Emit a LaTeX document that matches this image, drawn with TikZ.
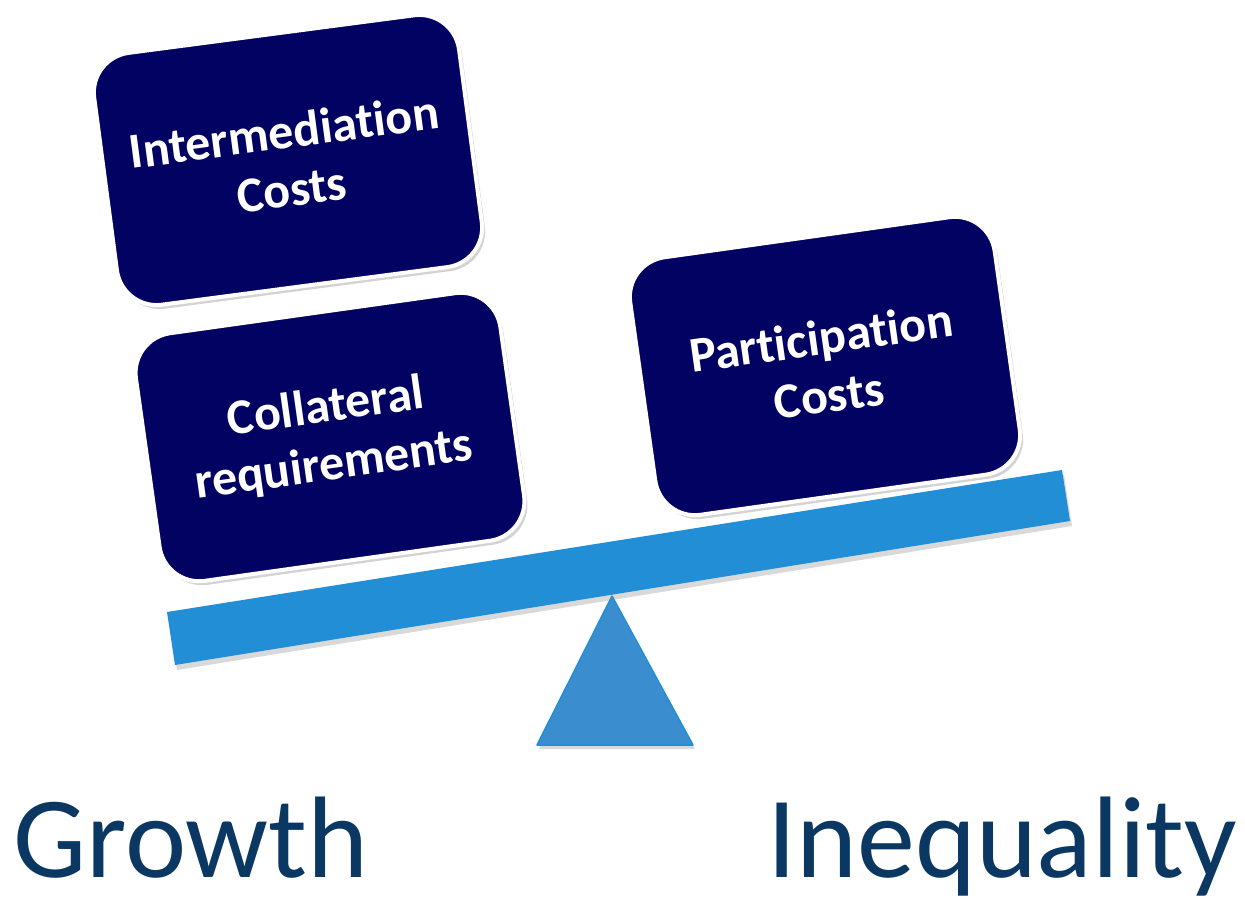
\documentclass[tikz,border=0pt]{standalone}
\usepackage{fontspec}
\setmainfont{Carlito}[Ligatures=NoCommon]
\usetikzlibrary{shadows}
\definecolor{boxnavy}{RGB}{2,2,98}
\definecolor{beamblue}{RGB}{34,142,214}
\definecolor{pivotblue}{RGB}{58,142,208}
\definecolor{labelnavy}{RGB}{11,55,99}

\begin{document}
\begin{tikzpicture}[x=1pt,y=-1pt,
  costbox/.style={draw=white,line width=4pt,fill=boxnavy,rounded corners=40pt,
    minimum width=368pt,minimum height=254pt,text=white,align=center,
    font=\fontsize{50}{58}\selectfont\bfseries,
    drop shadow={shadow xshift=3pt,shadow yshift=-4pt,opacity=.35}},
  side/.style={text=labelnavy,inner sep=0pt,anchor=base west,
    font=\fontsize{116}{120}\selectfont}]
\useasboundingbox (0,0) rectangle (1245,901);
% Ends of the beam
\coordinate (bl1) at (167,612);
\coordinate (bl2) at (175,665);
\coordinate (br1) at (1062,470);
\coordinate (br2) at (1070,521);
% Corners of the fulcrum
\coordinate (tip) at (612,596);
\coordinate (fl) at (537,745);
\coordinate (fr) at (693,745);
% Draw the fulcrum, then the beam on it
\filldraw[fill=pivotblue,draw=beamblue,line width=1.5pt,line join=round,
  drop shadow={shadow xshift=2pt,shadow yshift=-4pt,opacity=.3}]
  (tip) -- (fr) -- (fl) -- cycle;
\fill[beamblue,drop shadow={shadow xshift=2pt,shadow yshift=-5pt,opacity=.3}]
  (bl1) -- (br1) -- (br2) -- (bl2) -- cycle;
% Weights on the beam
\node[costbox,rotate=7.5] (inter) at (288,160) {Intermediation\\Costs};
\node[costbox,rotate=8,minimum height=250pt] (coll) at (330,437) {Collateral\\requirements};
\node[costbox,rotate=8,minimum height=260pt] (part) at (825,366) {Participation\\Costs};
% Names of the two sides
\node[side] (grow) at (13,877) {Growth};
\node[side] (ineq) at (767,877) {Inequality};
\end{tikzpicture}
\end{document}
